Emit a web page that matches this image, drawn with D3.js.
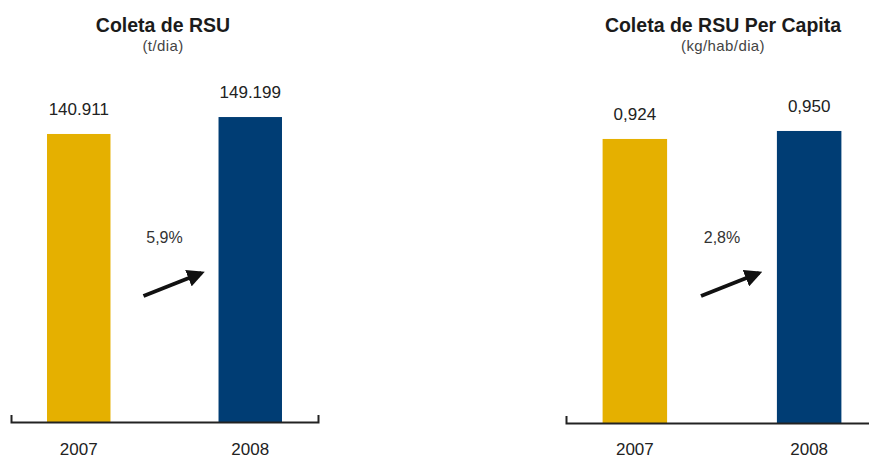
<!DOCTYPE html>
<html>
<head>
<meta charset="utf-8">
<script src="https://cdn.jsdelivr.net/npm/d3@7"></script>
<style>
  body { margin: 0; background: #fff; }
  svg { display: block; font-family: "Liberation Sans", Arial, sans-serif; }
</style>
</head>
<body>
<div id="container"></div>
<script>
// data
const years = ["2007", "2008"];
const coletaTotal = [140911, 149199];
const coletaPerCapita = [0.924, 0.95];
const variacao = ["5,9%", "2,8%"];
const titles = ["Coleta de RSU", "Coleta de RSU Per Capita"];
const subtitles = ["(t/dia)", "(kg/hab/dia)"];
const barColors = ["#E5B000", "#003D74"];

const width = 869, height = 459;

const br = d3.formatLocale({ decimal: ",", thousands: ".", grouping: [3], currency: ["R$", ""] });

const svg = d3.select("#container")
  .append("svg")
  .attr("width", width)
  .attr("height", height);

svg.append("defs")
  .append("marker")
  .attr("id", "arrowhead")
  .attr("viewBox", "0 0 10 10")
  .attr("refX", 8)
  .attr("refY", 5)
  .attr("markerWidth", 4.4)
  .attr("markerHeight", 4.4)
  .attr("orient", "auto")
  .append("path")
  .attr("d", "M0,0 L10,5 L0,10 Z")
  .attr("fill", "#111");

const drawChart = (opts) => {
  const { values, title, subtitle, pct, xRange, baseY, yDomain, yTop, fmt, titleX } = opts;

  const x = d3.scaleBand()
    .domain(years)
    .range(xRange)
    .paddingInner(0.63)
    .paddingOuter(0.21);

  const y = d3.scaleLinear()
    .domain(yDomain)
    .range([baseY, yTop]);

  const g = svg.append("g");

  // title
  g.append("text")
    .attr("x", titleX)
    .attr("y", 32)
    .attr("text-anchor", "middle")
    .attr("font-size", "19.5px")
    .attr("font-weight", "bold")
    .attr("fill", "#1b1b1b")
    .text(title);

  g.append("text")
    .attr("x", titleX)
    .attr("y", 51)
    .attr("text-anchor", "middle")
    .attr("font-size", "15px")
    .attr("letter-spacing", "0.4px")
    .attr("fill", "#444")
    .text(subtitle);

  // bars
  g.selectAll(".bar")
    .data(values)
    .enter()
    .append("rect")
    .attr("class", "bar")
    .attr("x", (d, i) => x(years[i]))
    .attr("y", (d) => y(d))
    .attr("width", x.bandwidth())
    .attr("height", (d) => y(0) - y(d))
    .attr("fill", (d, i) => barColors[i]);

  // value labels
  g.selectAll(".val")
    .data(values)
    .enter()
    .append("text")
    .attr("class", "val")
    .attr("x", (d, i) => x(years[i]) + x.bandwidth() / 2)
    .attr("y", (d) => y(d) - 19)
    .attr("text-anchor", "middle")
    .attr("font-size", "17px")
    .attr("fill", "#222")
    .text((d) => fmt(d));

  // axis, labels kept just inside the bottom edge
  const axis = d3.axisBottom(x)
    .tickSizeInner(0)
    .tickSizeOuter(-7)
    .tickPadding(455 - 12 - baseY);

  const ax = g.append("g")
    .attr("transform", `translate(0, ${baseY})`)
    .call(axis);
  ax.select(".domain").attr("stroke", "#222").attr("stroke-width", 2);
  ax.selectAll("text")
    .attr("font-size", "17px")
    .attr("font-family", "Liberation Sans, Arial, sans-serif")
    .attr("fill", "#222");

  // growth arrow + label
  const c0 = x(years[0]) + x.bandwidth() / 2;
  const c1 = x(years[1]) + x.bandwidth() / 2;
  const mid = (c0 + c1) / 2;

  g.append("text")
    .attr("x", mid)
    .attr("y", 243)
    .attr("text-anchor", "middle")
    .attr("font-size", "16px")
    .attr("fill", "#333")
    .text(pct);

  g.append("line")
    .attr("x1", mid - 21)
    .attr("y1", 296)
    .attr("x2", mid + 37)
    .attr("y2", 273)
    .attr("stroke", "#111")
    .attr("stroke-width", 4)
    .attr("marker-end", "url(#arrowhead)");
};

drawChart({
  values: coletaTotal,
  title: titles[0],
  subtitle: subtitles[0],
  pct: variacao[0],
  xRange: [11, 318],
  baseY: 422,
  yDomain: [0, 150000],
  yTop: 115.4,
  fmt: br.format(",d"),
  titleX: 163
});

drawChart({
  values: coletaPerCapita,
  title: titles[1],
  subtitle: subtitles[1],
  pct: variacao[1],
  xRange: [566, 878],
  baseY: 423,
  yDomain: [0, 1],
  yTop: 115.6,
  fmt: br.format(".3f"),
  titleX: 723
});
</script>
</body>
</html>
